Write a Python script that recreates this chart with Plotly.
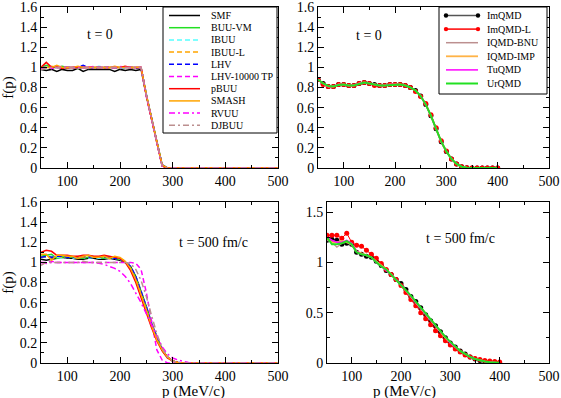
import plotly.graph_objects as go
from plotly.subplots import make_subplots

W, H = 561, 398

# ---- data -----------------------------------------------------------------
buu_names = ["SMF", "BUU-VM", "IBUU", "IBUU-L", "LHV", "LHV-10000 TP",
             "pBUU", "SMASH", "RVUU", "DJBUU"]
qmd_names = ["ImQMD", "ImQMD-L", "IQMD-BNU", "IQMD-IMP", "TuQMD", "UrQMD"]

# BUU, t = 0
p_buu0 = [50, 60, 70, 80, 90, 100, 110, 120, 130, 140, 150, 160, 170, 180, 190,
          200, 210, 220, 230, 240, 250, 260, 270, 280, 290, 500]
smf_0 = [0.98, 0.97, 0.98, 0.96, 0.98, 0.97, 0.97, 0.99, 0.96, 0.98, 0.98, 0.98, 0.98,
         0.98, 0.96, 0.98, 0.97, 0.98, 0.97, 0.98, 0.72, 0.49, 0.26, 0.03, 0, 0]
buuvm_0 = [1.0, 1.02, 1.0, 1.0, 1.01, 1.0, 1.0, 0.99, 1.0, 1.0, 1.0, 1.0, 1.0,
           1.0, 1.0, 1.0, 1.0, 1.0, 1.0, 1.0, 0.73, 0.49, 0.26, 0.03, 0, 0]
ibuu_0 = [1.0, 1.0, 0.99, 1.01, 1.0, 1.0, 1.0, 1.0, 1.0, 0.99, 1.0, 1.01, 1.0,
          1.0, 1.0, 0.99, 1.0, 1.0, 1.0, 0.99, 0.72, 0.48, 0.25, 0.02, 0, 0]
ibuul_0 = [0.99, 1.0, 1.01, 1.0, 1.0, 0.99, 1.0, 1.0, 1.01, 1.0, 1.0, 1.0, 0.99,
           1.0, 1.0, 1.0, 1.01, 1.0, 1.0, 1.0, 0.72, 0.48, 0.25, 0.02, 0, 0]
lhv_0 = [1.0, 1.0, 1.0, 1.0, 1.0, 1.0, 1.0, 1.0, 1.02, 1.0, 0.99, 1.0, 1.0,
         1.0, 1.0, 1.0, 1.0, 1.0, 0.99, 1.0, 0.73, 0.48, 0.26, 0.03, 0, 0]
lhvtp_0 = [0.99, 1.0, 0.99, 1.0, 1.01, 1.0, 1.0, 1.0, 1.0, 1.0, 1.01, 1.0, 1.0,
           1.0, 1.0, 1.01, 1.0, 1.0, 1.0, 1.0, 0.71, 0.47, 0.24, 0.02, 0, 0]
pbuu_0 = [1.0, 1.05, 1.0, 1.01, 0.99, 1.0, 1.0, 1.0, 1.0, 1.0, 1.0, 1.0, 1.0,
          1.0, 1.0, 1.0, 1.01, 1.0, 1.0, 1.0, 0.72, 0.48, 0.25, 0.02, 0, 0]
smash_0 = [1.0, 1.0, 1.0, 1.02, 1.0, 1.0, 1.0, 1.01, 1.0, 1.0, 1.0, 1.0, 1.0,
           1.0, 1.01, 1.0, 1.0, 1.0, 1.0, 1.0, 0.73, 0.49, 0.26, 0.03, 0, 0]
rvuu_0 = [0.99, 1.0, 1.0, 1.0, 1.0, 1.0, 1.0, 1.0, 1.0, 1.0, 1.0, 1.0, 1.0,
          1.0, 1.0, 1.0, 1.0, 1.0, 1.0, 1.0, 0.72, 0.48, 0.25, 0.02, 0, 0]
djbuu_0 = [0.98, 0.99, 1.0, 1.0, 1.0, 1.0, 1.0, 0.99, 1.0, 1.0, 1.0, 1.0, 1.0,
           1.0, 1.0, 1.0, 1.0, 1.0, 1.0, 1.0, 0.72, 0.48, 0.25, 0.02, 0, 0]

# BUU, t = 500 fm/c
p_buu500 = [50, 60, 70, 80, 90, 100, 110, 120, 130, 140, 150, 160, 170, 180, 190,
            200, 210, 220, 230, 240, 250, 260, 270, 280, 290, 300, 310, 320, 330, 340, 500]
smf_500 = [1.03, 1.02, 1.03, 1.04, 1.05, 1.04, 1.04, 1.03, 1.03, 1.04, 1.04, 1.03, 1.03, 1.04, 1.03,
           1.02, 1.0, 0.96, 0.86, 0.72, 0.56, 0.39, 0.25, 0.13, 0.06, 0.02, 0.005, 0, 0, 0, 0]
buuvm_500 = [1.06, 1.07, 1.08, 1.04, 1.05, 1.06, 1.05, 1.05, 1.04, 1.05, 1.05, 1.05, 1.04, 1.05, 1.04,
             1.03, 1.0, 0.95, 0.85, 0.71, 0.55, 0.39, 0.25, 0.13, 0.06, 0.02, 0.005, 0, 0, 0, 0]
ibuu_500 = [1.05, 1.05, 1.06, 1.05, 1.04, 1.05, 1.04, 1.05, 1.05, 1.04, 1.05, 1.04, 1.05, 1.04, 1.04,
            1.03, 1.01, 0.96, 0.86, 0.72, 0.56, 0.39, 0.25, 0.13, 0.06, 0.02, 0.005, 0, 0, 0, 0]
ibuul_500 = [1.06, 1.05, 1.05, 1.06, 1.05, 1.05, 1.05, 1.06, 1.05, 1.05, 1.06, 1.05, 1.05, 1.05, 1.05,
             1.04, 1.01, 0.95, 0.85, 0.71, 0.55, 0.38, 0.24, 0.13, 0.06, 0.02, 0.005, 0, 0, 0, 0]
lhv_500 = [1.05, 1.06, 1.05, 1.06, 1.06, 1.05, 1.05, 1.05, 1.06, 1.05, 1.06, 1.05, 1.05, 1.05, 1.04,
           1.03, 1.01, 0.96, 0.86, 0.72, 0.56, 0.39, 0.25, 0.13, 0.06, 0.02, 0.005, 0, 0, 0, 0]
lhvtp_500 = [1.0, 1.0, 1.01, 1.0, 1.0, 1.0, 1.0, 1.0, 1.0, 1.0, 1.0, 1.0, 1.0, 1.0, 1.0,
             1.0, 1.0, 1.0, 0.99, 0.93, 0.7, 0.4, 0.13, 0.03, 0.0, 0, 0, 0, 0, 0, 0]
pbuu_500 = [1.1, 1.12, 1.11, 1.07, 1.07, 1.07, 1.06, 1.06, 1.07, 1.07, 1.06, 1.06, 1.07, 1.06, 1.05,
            1.04, 1.0, 0.92, 0.8, 0.66, 0.5, 0.35, 0.22, 0.12, 0.05, 0.02, 0.005, 0, 0, 0, 0]
smash_500 = [1.08, 1.08, 1.02, 1.07, 1.07, 1.06, 1.06, 1.04, 1.06, 1.07, 1.05, 1.05, 1.06, 1.04, 1.06,
             1.05, 1.01, 0.94, 0.83, 0.69, 0.53, 0.37, 0.23, 0.13, 0.06, 0.02, 0.005, 0, 0, 0, 0]
rvuu_500 = [1.0, 0.99, 1.0, 1.0, 1.0, 1.0, 1.0, 1.0, 1.0, 1.0, 1.0, 0.99, 0.98, 0.96, 0.94,
            0.91, 0.86, 0.79, 0.7, 0.6, 0.49, 0.38, 0.26, 0.16, 0.09, 0.05, 0.03, 0.015, 0.005, 0, 0]
djbuu_500 = [0.97, 1.0, 1.0, 1.0, 1.0, 1.0, 1.0, 1.0, 1.01, 1.0, 1.0, 1.0, 1.0, 1.0, 1.0,
             1.0, 1.0, 0.99, 0.93, 0.82, 0.66, 0.47, 0.29, 0.15, 0.06, 0.02, 0.005, 0, 0, 0, 0]

# QMD grid
p_qmd = [50, 60, 70, 80, 90, 100, 110, 120, 130, 140, 150, 160, 170, 180, 190, 200, 210, 220,
         230, 240, 250, 260, 270, 280, 290, 300, 310, 320, 330, 340, 350, 360, 370, 380, 390, 400]

# QMD, t = 0
imqmd_0 = [0.88, 0.84, 0.81, 0.81, 0.83, 0.83, 0.82, 0.82, 0.84, 0.85, 0.84, 0.83, 0.82, 0.82, 0.83, 0.83, 0.83, 0.82,
           0.80, 0.77, 0.715, 0.63, 0.52, 0.39, 0.26, 0.165, 0.09, 0.04, 0.012, 0.003, 0, 0, 0, 0, 0, 0]
imqmdl_0 = [0.88, 0.83, 0.81, 0.81, 0.83, 0.83, 0.82, 0.82, 0.84, 0.85, 0.84, 0.82, 0.82, 0.82, 0.83, 0.83, 0.83, 0.82,
            0.80, 0.76, 0.71, 0.64, 0.53, 0.40, 0.27, 0.17, 0.09, 0.04, 0.012, 0.002, 0, 0, 0, 0, 0, 0]
iqmdbnu_0 = [0.88, 0.84, 0.81, 0.81, 0.83, 0.83, 0.82, 0.82, 0.84, 0.85, 0.84, 0.83, 0.82, 0.82, 0.83, 0.83, 0.83, 0.82,
             0.80, 0.77, 0.715, 0.63, 0.52, 0.39, 0.26, 0.165, 0.09, 0.04, 0.012, 0.003, 0, 0, 0, 0, 0, 0]
iqmdimp_0 = [0.88, 0.84, 0.81, 0.81, 0.83, 0.83, 0.82, 0.82, 0.84, 0.85, 0.84, 0.83, 0.82, 0.82, 0.83, 0.83, 0.83, 0.82,
             0.80, 0.77, 0.715, 0.63, 0.52, 0.39, 0.26, 0.165, 0.09, 0.04, 0.012, 0.003, 0, 0, 0, 0, 0, 0]
tuqmd_0 = [0.88, 0.84, 0.81, 0.81, 0.83, 0.83, 0.82, 0.82, 0.84, 0.85, 0.84, 0.83, 0.82, 0.82, 0.83, 0.83, 0.83, 0.82,
           0.80, 0.77, 0.715, 0.63, 0.52, 0.39, 0.26, 0.165, 0.09, 0.04, 0.012, 0.003, 0, 0, 0, 0, 0, 0]
urqmd_0 = [0.88, 0.84, 0.815, 0.81, 0.825, 0.83, 0.82, 0.82, 0.835, 0.85, 0.84, 0.83, 0.82, 0.82, 0.825, 0.83, 0.83, 0.82,
           0.80, 0.77, 0.715, 0.63, 0.52, 0.39, 0.265, 0.165, 0.09, 0.04, 0.013, 0.003, 0, 0, 0, 0, 0, 0]

# QMD, t = 500 fm/c
imqmd_500 = [1.22, 1.23, 1.22, 1.18, 1.19, 1.18, 1.10, 1.08, 1.06, 1.05, 1.01, 0.97, 0.92, 0.88, 0.83, 0.79, 0.73, 0.66,
             0.61, 0.55, 0.48, 0.42, 0.37, 0.31, 0.25, 0.20, 0.16, 0.12, 0.09, 0.06, 0.04, 0.025, 0.015, 0.008, 0.003, 0.0]
imqmdl_500 = [1.27, 1.27, 1.27, 1.24, 1.29, 1.20, 1.17, 1.16, 1.12, 1.08, 1.04, 0.99, 0.93, 0.88, 0.83, 0.77, 0.70, 0.63,
              0.57, 0.50, 0.44, 0.38, 0.32, 0.27, 0.22, 0.18, 0.14, 0.11, 0.08, 0.06, 0.045, 0.035, 0.025, 0.02, 0.015, 0.01]
iqmdbnu_500 = [1.22, 1.2, 1.15, 1.19, 1.2, 1.17, 1.1, 1.08, 1.07, 1.05, 1.01, 0.97, 0.93, 0.88, 0.83, 0.78, 0.72, 0.66,
               0.6, 0.54, 0.48, 0.42, 0.37, 0.31, 0.26, 0.21, 0.16, 0.12, 0.09, 0.06, 0.04, 0.025, 0.015, 0.008, 0.004, 0.001]
iqmdimp_500 = [1.24, 1.2, 1.2, 1.21, 1.2, 1.18, 1.11, 1.09, 1.07, 1.05, 1.01, 0.97, 0.93, 0.88, 0.83, 0.78, 0.72, 0.66,
               0.6, 0.54, 0.48, 0.42, 0.36, 0.31, 0.25, 0.2, 0.16, 0.12, 0.09, 0.06, 0.04, 0.025, 0.015, 0.008, 0.004, 0.001]
tuqmd_500 = [1.25, 1.22, 1.2, 1.2, 1.22, 1.19, 1.11, 1.08, 1.07, 1.05, 1.0, 0.96, 0.92, 0.88, 0.83, 0.78, 0.72, 0.66,
             0.6, 0.54, 0.48, 0.42, 0.37, 0.31, 0.26, 0.2, 0.16, 0.12, 0.09, 0.06, 0.04, 0.025, 0.015, 0.008, 0.004, 0.001]
urqmd_500 = [1.25, 1.18, 1.18, 1.19, 1.21, 1.18, 1.10, 1.08, 1.07, 1.05, 1.0, 0.96, 0.93, 0.88, 0.83, 0.78, 0.73, 0.67,
             0.61, 0.55, 0.49, 0.43, 0.37, 0.31, 0.26, 0.21, 0.16, 0.12, 0.09, 0.06, 0.04, 0.025, 0.015, 0.008, 0.004, 0.002]

buu_t0 = [smf_0, buuvm_0, ibuu_0, ibuul_0, lhv_0, lhvtp_0, pbuu_0, smash_0, rvuu_0, djbuu_0]
buu_t500 = [smf_500, buuvm_500, ibuu_500, ibuul_500, lhv_500, lhvtp_500, pbuu_500, smash_500, rvuu_500, djbuu_500]
qmd_t0 = [imqmd_0, imqmdl_0, iqmdbnu_0, iqmdimp_0, tuqmd_0, urqmd_0]
qmd_t500 = [imqmd_500, imqmdl_500, iqmdbnu_500, iqmdimp_500, tuqmd_500, urqmd_500]

# ---- styles ---------------------------------------------------------------
DASH = "5px,3px"
DASHDOT = "6px,3px,2px,3px"
buu_style = {
    "SMF": ("black", "solid", 1.5),
    "BUU-VM": ("#22e022", "solid", 1.5),
    "IBUU": ("#55ffff", DASH, 1.5),
    "IBUU-L": ("#ffa500", DASH, 1.5),
    "LHV": ("#0000ff", DASH, 1.5),
    "LHV-10000 TP": ("#ff00ff", DASH, 1.5),
    "pBUU": ("#ff0000", "solid", 1.5),
    "SMASH": ("#ffa500", "solid", 1.5),
    "RVUU": ("#ff00ff", DASHDOT, 1.5),
    "DJBUU": ("#bc8f8f", DASHDOT, 1.5),
}
qmd_style = {
    "ImQMD": ("#555555", 1.5, "black"),
    "ImQMD-L": ("#ff0000", 1.0, "#ff0000"),
    "IQMD-BNU": ("#bc8f8f", 1.2, None),
    "IQMD-IMP": ("#ffb347", 1.8, None),
    "TuQMD": ("#ff00ff", 1.5, None),
    "UrQMD": ("#22e022", 2.0, None),
}

FONT = "Liberation Serif, Times New Roman, serif"

fig = make_subplots(rows=2, cols=2)

for name, y in zip(buu_names, buu_t0):
    c, d, w = buu_style[name]
    fig.add_trace(go.Scatter(x=p_buu0, y=y, mode="lines", name=name,
                             line=dict(color=c, dash=d, width=w), showlegend=False), row=1, col=1)
for name, y in zip(buu_names, buu_t500):
    c, d, w = buu_style[name]
    fig.add_trace(go.Scatter(x=p_buu500, y=y, mode="lines", name=name,
                             line=dict(color=c, dash=d, width=w), showlegend=False), row=2, col=1)
for col_row, data in (((1, 2), qmd_t0), ((2, 2), qmd_t500)):
    for name, y in zip(qmd_names, data):
        c, w, mc = qmd_style[name]
        fig.add_trace(go.Scatter(
            x=p_qmd, y=y, mode="lines+markers" if mc else "lines", name=name,
            line=dict(color=c, width=w),
            marker=dict(color=mc, size=5) if mc else None,
            showlegend=False), row=col_row[0], col=col_row[1])


def px(x):
    return x / W


def py(y):
    return 1 - y / H


top = [py(168), py(7)]
bot = [py(363), py(202)]
doms = {
    "xaxis": [px(41), px(278)], "yaxis": top,
    "xaxis2": [px(318), px(549)], "yaxis2": top,
    "xaxis3": [px(41), px(278)], "yaxis3": bot,
    "xaxis4": [px(327), px(549)], "yaxis4": bot,
}

axis_common = dict(showgrid=False, zeroline=False, showline=True, linecolor="black",
                   linewidth=1, mirror="ticks", ticks="inside", ticklen=6, tickcolor="black",
                   tickfont=dict(family=FONT, size=14, color="black"), automargin=False,
                   ticklabeloverflow="allow")

for xa, ya in [("xaxis", "yaxis"), ("xaxis2", "yaxis2"),
               ("xaxis3", "yaxis3"), ("xaxis4", "yaxis4")]:
    fig.update_layout({
        xa: dict(domain=doms[xa], range=[50, 500], tick0=0, dtick=100,
                 minor=dict(dtick=50, ticks="inside", ticklen=3, tickcolor="black"),
                 **axis_common),
    })
    if ya == "yaxis4":
        fig.update_layout({ya: dict(domain=doms[ya], range=[0, 1.6], tick0=0, dtick=0.5,
                                    minor=dict(dtick=0.25, ticks="inside", ticklen=3, tickcolor="black"),
                                    **axis_common)})
    else:
        fig.update_layout({ya: dict(domain=doms[ya], range=[0, 1.6], tick0=0, dtick=0.2,
                                    minor=dict(dtick=0.1, ticks="inside", ticklen=3, tickcolor="black"),
                                    **axis_common)})

title_font = dict(family=FONT, size=15, color="black")
fig.update_layout(
    yaxis=dict(title=dict(text="f(p)", font=title_font, standoff=2)),
    yaxis3=dict(title=dict(text="f(p)", font=title_font, standoff=2)),
)

# x titles sit in the zero bottom margin, so place them directly
for x in (160, 438):
    fig.add_annotation(text="p (MeV/c)", x=px(x), y=py(391), xref="paper", yref="paper",
                       yanchor="middle", showarrow=False, font=title_font)

# panel labels
for txt, x, y in [("t = 0", 85, 25), ("t = 0", 369, 26),
                  ("t = 500 fm/c", 213, 242), ("t = 500 fm/c", 497, 238)]:
    fig.add_annotation(text=txt, x=px(x), y=py(y), xref="paper", yref="paper",
                       showarrow=False, font=dict(family=FONT, size=14, color="black"))

# hand-built legends (plotly's own legend rows are too tall for this size)
leg_font = dict(family=FONT, size=10, color="black")


def draw_legend(names, styles, box, first_y, step, x0, x1, xt):
    fig.add_shape(type="rect", xref="paper", yref="paper",
                  x0=px(box[0]), x1=px(box[2]), y0=py(box[3]), y1=py(box[1]),
                  line=dict(color="black", width=1), fillcolor="white", layer="above")
    for k, name in enumerate(names):
        yy = first_y + k * step
        color, dash, width, mcol = styles(name)
        fig.add_shape(type="line", xref="paper", yref="paper",
                      x0=px(x0), x1=px(x1), y0=py(yy), y1=py(yy),
                      line=dict(color=color, dash=dash, width=width), layer="above")
        if mcol:
            for xm in (x0, x1):
                fig.add_shape(type="circle", xref="paper", yref="paper",
                              x0=px(xm - 2.2), x1=px(xm + 2.2), y0=py(yy + 2.2), y1=py(yy - 2.2),
                              fillcolor=mcol, line=dict(color=mcol, width=0), layer="above")
        fig.add_annotation(text=name, x=px(xt), y=py(yy), xref="paper", yref="paper",
                           xanchor="left", yanchor="middle", showarrow=False, font=leg_font)


draw_legend(buu_names, lambda n: (*buu_style[n], None),
            (163, 7, 277, 133), 15.5, 12.2, 169, 200, 209)
draw_legend(qmd_names, lambda n: (qmd_style[n][0], "solid", max(qmd_style[n][1], 1.5), qmd_style[n][2]),
            (439, 7, 547, 94), 15.5, 13.6, 446, 478, 485)

fig.update_layout(width=W, height=H, margin=dict(l=0, r=0, t=0, b=0),
                  paper_bgcolor="white", plot_bgcolor="white",
                  font=dict(family=FONT, color="black"), showlegend=False)

# the page body has a default 8px margin; drop it so the figure fills the window
fig.write_html("out.html", config={"displayModeBar": False},
               post_script="document.body.style.margin='0px';")
